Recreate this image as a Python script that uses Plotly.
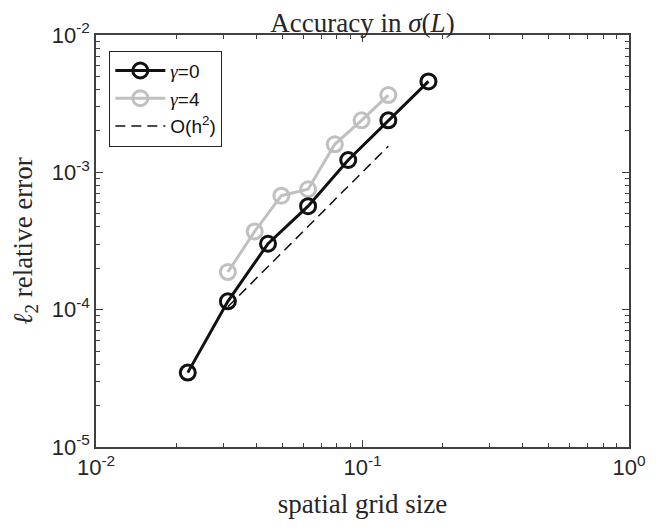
import plotly.graph_objects as go

# spatial grid size h and l2 relative error
h_gamma0 = [0.0221, 0.03125, 0.0442, 0.0625, 0.0884, 0.125, 0.1768]
err_gamma0 = [3.48e-5, 1.15e-4, 3.02e-4, 5.67e-4, 1.23e-3, 2.39e-3, 4.59e-3]

h_gamma4 = [0.03125, 0.0394, 0.0496, 0.0625, 0.0787, 0.0992, 0.125]
err_gamma4 = [1.88e-4, 3.71e-4, 6.76e-4, 7.53e-4, 1.60e-3, 2.39e-3, 3.65e-3]

# O(h^2) reference line
h_ref = [0.03125, 0.125]
err_ref = [1.05e-4, 1.55e-3]

x_tickvals = [1e-2, 1e-1, 1e0]
x_ticktext = ['10<sup>-2</sup>', '10<sup>-1</sup>', '10<sup>0</sup>']
y_tickvals = [1e-5, 1e-4, 1e-3, 1e-2]
y_ticktext = ['10<sup>-5</sup>', '10<sup>-4</sup>', '10<sup>-3</sup>', '10<sup>-2</sup>']

x_minor = [k * 10.0 ** e for e in (-2, -1) for k in range(2, 10)]
y_minor = [k * 10.0 ** e for e in (-5, -4, -3) for k in range(2, 10)]

axcol = '#404040'
txtcol = '#262626'
sans = 'Liberation Sans'
serif = 'Liberation Serif'
gam = '<span style="font-family:Liberation Serif"><i>γ</i></span>'

fig = go.Figure()

fig.add_trace(go.Scatter(
    x=h_gamma4, y=err_gamma4, mode='lines+markers', name=gam + '=4',
    legendrank=2,
    line=dict(color='#c0c0c0', width=3),
    marker=dict(symbol='circle-open', size=15, color='#c0c0c0',
                line=dict(width=3, color='#c0c0c0')),
))
fig.add_trace(go.Scatter(
    x=h_gamma0, y=err_gamma0, mode='lines+markers', name=gam + '=0',
    legendrank=1,
    line=dict(color='#111111', width=3),
    marker=dict(symbol='circle-open', size=15, color='#111111',
                line=dict(width=3, color='#111111')),
))
fig.add_trace(go.Scatter(
    x=h_ref, y=err_ref, mode='lines', name='O(h<sup>2</sup>)',
    legendrank=3,
    line=dict(color='#111111', width=1.5, dash='10px,6px'),
))


def axis(tickvals, ticktext, minor, rng, title):
    return dict(
        type='log', range=rng,
        tickmode='array', tickvals=tickvals, ticktext=ticktext,
        ticks='inside', ticklen=7, tickwidth=1.2, tickcolor=axcol,
        minor=dict(tickmode='array', tickvals=minor, ticks='inside',
                   ticklen=4, tickwidth=1.2, tickcolor=axcol, showgrid=False),
        showline=True, linecolor=axcol, linewidth=1.5, mirror='ticks',
        showgrid=False, zeroline=False, ticklabeloverflow='allow',
        tickfont=dict(family=sans, size=22, color=txtcol),
        title=dict(text=title, font=dict(family=serif, size=27, color=txtcol)),
    )


# the page adds an 8px body margin round the plot; size it so nothing
# overflows the 664x532 window and shift the margins to suit
W, H = 648, 516
fig.update_layout(
    width=W, height=H,
    margin=dict(l=83, r=10, t=27, b=66),
    paper_bgcolor='white', plot_bgcolor='white',
    title=dict(text='Accuracy in <i>σ</i>(<i>L</i>)', xref='paper', x=0.5,
               xanchor='center', yref='container', y=1 - 14.5 / H,
               yanchor='middle',
               font=dict(family=serif, size=27, color=txtcol)),
    xaxis=axis(x_tickvals, x_ticktext, x_minor, [-2, 0], 'spatial grid size'),
    yaxis=axis(y_tickvals, y_ticktext, y_minor, [-5, -2],
               '<i>ℓ</i><sub>2</sub> relative error'),
    showlegend=True,
    legend=dict(x=0.025, y=0.962, xanchor='left', yanchor='top',
                bgcolor='white', bordercolor=txtcol, borderwidth=1,
                font=dict(family=sans, size=19, color='#111111'),
                itemwidth=50),
)

fig.write_html("out.html")
